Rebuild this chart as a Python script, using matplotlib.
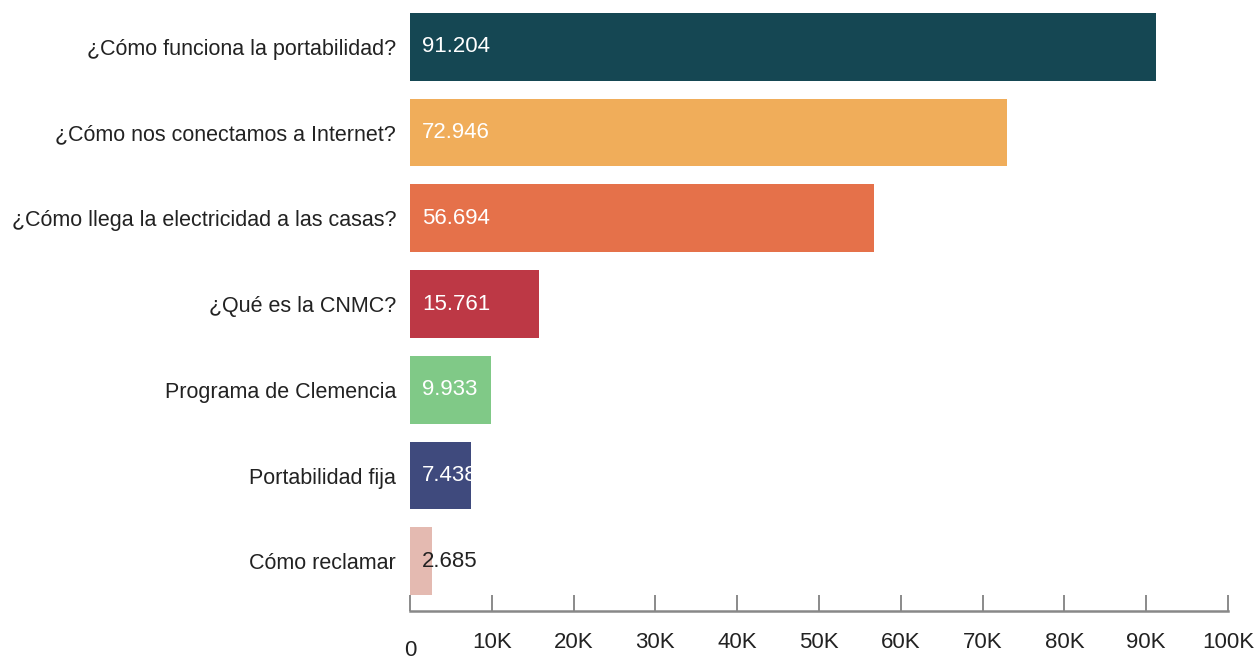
import matplotlib
matplotlib.use("Agg")
import matplotlib.pyplot as plt
from matplotlib.transforms import ScaledTranslation

categories = [
    "¿Cómo funciona la portabilidad?",
    "¿Cómo nos conectamos a Internet?",
    "¿Cómo llega la electricidad a las casas?",
    "¿Qué es la CNMC?",
    "Programa de Clemencia",
    "Portabilidad fija",
    "Cómo reclamar",
]
values = [91204, 72946, 56694, 15761, 9933, 7438, 2685]
value_labels = ["91.204", "72.946", "56.694", "15.761", "9.933", "7.438", "2.685"]
colors = ["#154753", "#F0AD5A", "#E5714A", "#BD3845", "#80C987", "#3F4A7D", "#E4BAB1"]
label_colors = ["white", "white", "white", "white", "white", "white", "#222222"]
tick_values = [0, 10000, 20000, 30000, 40000, 50000, 60000, 70000, 80000, 90000, 100000]
tick_labels = ["0", "10K", "20K", "30K", "40K", "50K", "60K", "70K", "80K", "90K", "100K"]

plt.rcParams["font.family"] = ["Liberation Sans", "DejaVu Sans"]

W, H = 1258, 660
fig = plt.figure(figsize=(W / 100, H / 100), dpi=100)
ax = fig.add_axes([410 / W, (H - 611) / H, (1228 - 410) / W, (611 - 4) / H])

y = list(range(len(categories)))
ax.barh(y, values, height=0.79, color=colors)
ax.set_xlim(0, 100000)
ax.set_ylim(6.58, -0.5)

for yi, lab, c in zip(y, value_labels, label_colors):
    ax.text(0, yi, lab, transform=ax.transData + ScaledTranslation(12 / 100, 0, fig.dpi_scale_trans),
            ha="left", va="center", fontsize=16, color=c)

ax.set_yticks(y)
ax.set_yticklabels(categories, fontsize=15.5, color="#222222")
ax.tick_params(axis="y", length=0, pad=10)

ax.set_xticks(tick_values)
ax.set_xticklabels([])
ax.tick_params(axis="x", direction="in", length=11.5, width=1.2, color="#777777")
for tv, tl in zip(tick_values, tick_labels):
    dy = -39 if tv == 0 else -31
    ax.text(tv, 0, tl, transform=ax.get_xaxis_transform() + ScaledTranslation(0, dy / 100, fig.dpi_scale_trans),
            ha="center", va="center", fontsize=16, color="#222222")

for s in ["top", "right", "left"]:
    ax.spines[s].set_visible(False)
ax.spines["bottom"].set_color("#888888")
ax.spines["bottom"].set_linewidth(1.8)

fig.savefig("out.png", dpi=100)
